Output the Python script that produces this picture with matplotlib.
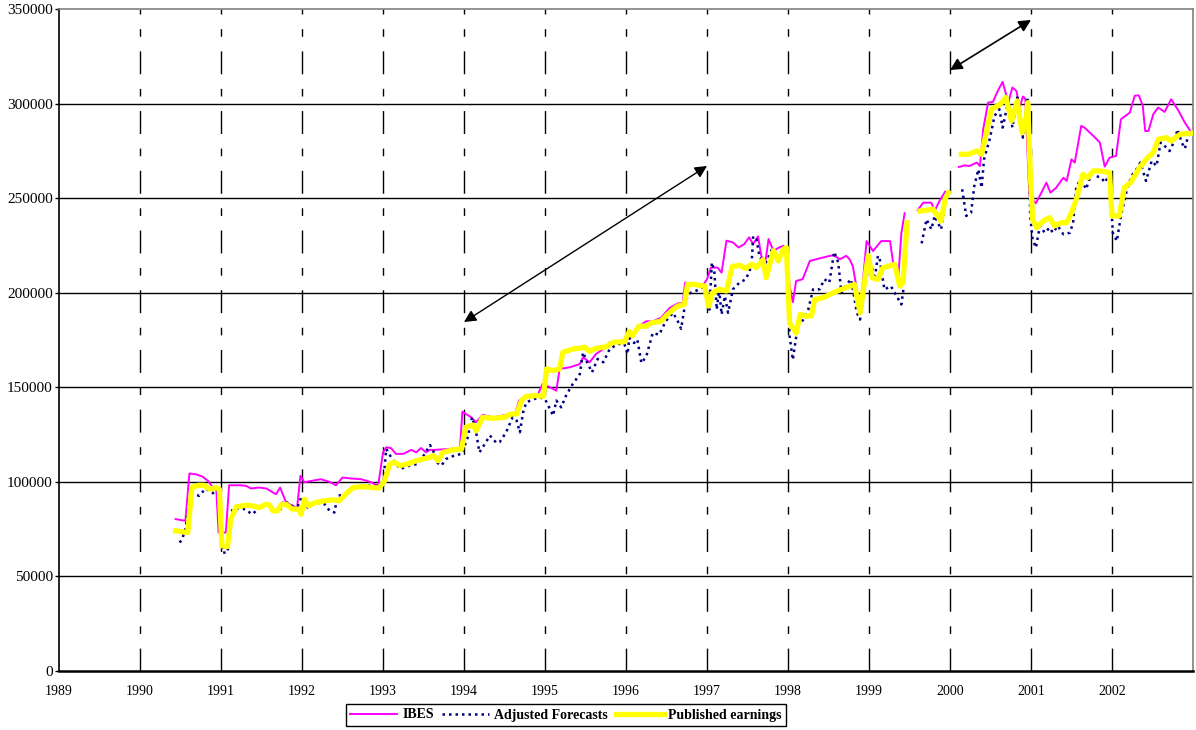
import numpy as np
import matplotlib
matplotlib.use("Agg")
import matplotlib.pyplot as plt

plt.rcParams['font.family'] = ['Liberation Serif', 'DejaVu Serif']

# IBES (x = year, y = value), NaN marks a gap in the series
ibes_t = [1990.44, 1990.56, 1990.61, 1990.69, 1990.77, 1990.84, 1990.90, 1990.94, 1990.97, 1991.06,
          1991.10, 1991.23, 1991.31, 1991.37, 1991.47, 1991.56, 1991.64, 1991.68, 1991.73, 1991.80,
          1991.88, 1991.94, 1991.98, 1992.03, 1992.13, 1992.23, 1992.34, 1992.42, 1992.50, 1992.60,
          1992.73, 1992.84, 1992.94, 1993.00, 1993.04, 1993.10, 1993.16, 1993.25, 1993.35, 1993.41,
          1993.47, 1993.53, 1993.58, 1993.64, 1993.95, 1993.98, 1994.09, 1994.15, 1994.23, 1994.36,
          1994.52, 1994.63, 1994.68, 1994.77, 1994.91, 1994.97, 1995.06, 1995.14, 1995.18, 1995.31,
          1995.43, 1995.47, 1995.55, 1995.63, 1995.72, 1995.80, 1995.92, 1996.02, 1996.08, 1996.16,
          1996.25, 1996.33, 1996.43, 1996.54, 1996.64, 1996.70, 1996.73, 1996.82, 1996.95, 1997.00,
          1997.05, 1997.13, 1997.18, 1997.24, 1997.32, 1997.39, 1997.46, 1997.52, 1997.57, 1997.63,
          1997.67, 1997.72, 1997.76, 1997.82, 1997.89, 1997.94, 1997.98, 1998.02, 1998.06, 1998.10,
          1998.18, 1998.27, 1998.35, 1998.43, 1998.56, 1998.64, 1998.72, 1998.76, 1998.80, 1998.85,
          1998.89, 1998.97, 1999.05, 1999.15, 1999.26, 1999.30, 1999.36, 1999.40, 1999.44, 1999.52,
          1999.60, 1999.67, 1999.77, 1999.81, 1999.87, 1999.94, 2000.02, 2000.11, 2000.18, 2000.24,
          2000.33, 2000.37, 2000.41, 2000.47, 2000.53, 2000.59, 2000.65, 2000.72, 2000.77, 2000.82,
          2000.86, 2000.90, 2000.93, 2000.95, 2000.98, 2001.06, 2001.15, 2001.19, 2001.24, 2001.31,
          2001.40, 2001.44, 2001.50, 2001.54, 2001.62, 2001.66, 2001.77, 2001.85, 2001.91, 2001.97,
          2002.05, 2002.11, 2002.22, 2002.28, 2002.33, 2002.38, 2002.41, 2002.45, 2002.51, 2002.57,
          2002.65, 2002.73, 2002.81, 2002.90, 2002.98]
ibes_v = [80300, 79400, 104400, 104000, 102800, 100500, 97000, 97800, 73200, 73200,
          98200, 98200, 97900, 96500, 97000, 96500, 94400, 93500, 97000, 89400,
          87300, 86400, 103200, 99800, 100600, 101400, 100000, 98200, 102300, 101800,
          101400, 100000, 97900, 115500, 118300, 117800, 114800, 114800, 116900, 115600,
          117900, 115600, 116900, 116900, 117800, 137100, 134100, 131500, 135400, 134100,
          135400, 135900, 143000, 145600, 145900, 151800, 150000, 148200, 159700, 160600,
          162300, 165900, 163200, 167600, 170300, 173800, 174300, 175500, 178700, 182300,
          184900, 184900, 186700, 192000, 194300, 194600, 205300, 204900, 203900, 207100,
          213300, 213300, 210600, 227500, 226600, 223900, 225700, 229300, 225700, 229800,
          219500, 216000, 228400, 222200, 223900, 224800, 223000, 203500, 195000, 206200,
          207100, 216800, 217700, 218600, 219900, 217700, 219500, 217700, 214100, 201800,
          189400, 227300, 222000, 227300, 227300, 215000, 207000, 231700, 242000, np.nan,
          243700, 247600, 247600, 243200, 248500, 253400, np.nan, 266500, 267300, 267000,
          268800, 267000, 286400, 300500, 300900, 306700, 311500, 300500, 308500, 306700,
          297900, 303700, 302600, 281100, 251100, 247300, 254700, 258200, 252900, 255500,
          260800, 259100, 270500, 268800, 288200, 287300, 282900, 279400, 266700, 271400,
          272300, 291700, 295200, 304100, 304400, 298800, 285500, 285500, 294400, 297900,
          295600, 302300, 297000, 289900, 284700]

adj_t = [1990.49, 1990.52, 1990.56, 1990.63, 1990.73, 1990.81, 1990.90, 1990.96, 1991.02, 1991.08,
         1991.14, 1991.27, 1991.39, 1991.47, 1991.56, 1991.64, 1991.72, 1991.78, 1991.86, 1991.95,
         1991.99, 1992.07, 1992.17, 1992.28, 1992.34, 1992.40, 1992.44, 1992.54, 1992.63, 1992.75,
         1992.87, 1992.93, 1993.00, 1993.04, 1993.10, 1993.21, 1993.33, 1993.43, 1993.49, 1993.58,
         1993.62, 1993.66, 1993.72, 1993.78, 1993.88, 1993.97, 1994.04, 1994.10, 1994.15, 1994.19,
         1994.27, 1994.32, 1994.40, 1994.44, 1994.52, 1994.60, 1994.65, 1994.69, 1994.73, 1994.77,
         1994.87, 1994.93, 1995.00, 1995.10, 1995.14, 1995.20, 1995.26, 1995.33, 1995.43, 1995.47,
         1995.52, 1995.58, 1995.65, 1995.72, 1995.80, 1995.90, 1995.98, 1996.02, 1996.04, 1996.10,
         1996.14, 1996.19, 1996.25, 1996.33, 1996.41, 1996.49, 1996.58, 1996.64, 1996.68, 1996.74,
         1996.80, 1996.91, 1996.97, 1997.00, 1997.03, 1997.06, 1997.09, 1997.12, 1997.15, 1997.18,
         1997.22, 1997.26, 1997.32, 1997.40, 1997.48, 1997.55, 1997.57, 1997.61, 1997.65, 1997.73,
         1997.81, 1997.88, 1997.94, 1997.98, 1998.02, 1998.06, 1998.12, 1998.19, 1998.25, 1998.31,
         1998.39, 1998.45, 1998.51, 1998.57, 1998.62, 1998.66, 1998.72, 1998.78, 1998.85, 1998.89,
         1998.97, 1999.03, 1999.07, 1999.11, 1999.13, 1999.19, 1999.27, 1999.34, 1999.40, 1999.43,
         1999.52, 1999.65, 1999.71, 1999.77, 1999.81, 1999.89, 1999.95, 2000.05, 2000.15, 2000.20,
         2000.26, 2000.30, 2000.35, 2000.39, 2000.42, 2000.49, 2000.55, 2000.61, 2000.65, 2000.72,
         2000.77, 2000.83, 2000.86, 2000.90, 2000.96, 2000.99, 2001.02, 2001.06, 2001.11, 2001.17,
         2001.23, 2001.27, 2001.33, 2001.40, 2001.48, 2001.52, 2001.56, 2001.62, 2001.68, 2001.74,
         2001.80, 2001.87, 2001.91, 2001.97, 2002.01, 2002.06, 2002.11, 2002.18, 2002.24, 2002.30,
         2002.35, 2002.42, 2002.49, 2002.55, 2002.60, 2002.65, 2002.71, 2002.77, 2002.81, 2002.86,
         2002.90, 2002.94, 2002.98]
adj_v = [67900, 69700, 75000, 94400, 92600, 96500, 94000, 96100, 62600, 62600,
         85600, 85900, 82900, 86400, 87700, 84700, 84100, 90300, 87300, 87300,
         91700, 86400, 89100, 88200, 84700, 83800, 92600, 93500, 97000, 98200,
         97900, 97900, 97900, 117400, 113000, 106800, 108600, 109500, 113000, 119500,
         116500, 110400, 108600, 112100, 113900, 114800, 122700, 134100, 126200, 115600,
         120900, 124500, 120600, 121000, 126200, 134100, 132400, 126200, 136800, 142100,
         143800, 144700, 143800, 135000, 143000, 139400, 145600, 150900, 157000, 168500,
         163200, 157900, 165000, 163200, 170300, 172900, 172900, 167600, 176100, 173400,
         175200, 162800, 166300, 178700, 177800, 184900, 189400, 184900, 180900, 196500,
         200000, 201800, 203500, 199100, 191100, 216000, 211600, 191100, 201800, 188500,
         198200, 189400, 201800, 205300, 207100, 214200, 229800, 228400, 218600, 216000,
         223900, 217700, 223000, 222200, 177000, 164500, 182300, 185800, 191100, 201800,
         201800, 207100, 205300, 221600, 216000, 200000, 204400, 207100, 189400, 185800,
         210600, 214200, 207100, 219500, 218500, 201700, 203500, 198300, 193800, 203500,
         np.nan, 226100, 238800, 233500, 240600, 233500, 249400, np.nan, 254700, 240600,
         242300, 256400, 265200, 255500, 270500, 281100, 293500, 297000, 287300, 301400,
         287300, 303200, 297900, 282000, 303200, 240600, 228200, 223800, 235300, 231700,
         234400, 231700, 235300, 230900, 231700, 237000, 256400, 260000, 254700, 262600,
         261700, 260800, 258200, 262600, 231700, 227300, 240600, 253800, 261700, 265200,
         268800, 259100, 269700, 267000, 279400, 277600, 274900, 280200, 286400, 279400,
         276200, 282900, 284600]

pub_t = [1990.44, 1990.59, 1990.64, 1990.72, 1990.79, 1990.86, 1990.94, 1990.98, 1991.01, 1991.08,
         1991.12, 1991.19, 1991.31, 1991.39, 1991.47, 1991.56, 1991.60, 1991.64, 1991.70, 1991.74,
         1991.80, 1991.88, 1991.95, 1991.99, 1992.03, 1992.08, 1992.17, 1992.28, 1992.38, 1992.46,
         1992.54, 1992.63, 1992.75, 1992.87, 1992.95, 1993.02, 1993.08, 1993.14, 1993.21, 1993.31,
         1993.41, 1993.58, 1993.62, 1993.68, 1993.74, 1993.86, 1993.97, 1994.02, 1994.11, 1994.15,
         1994.23, 1994.36, 1994.50, 1994.58, 1994.65, 1994.71, 1994.77, 1994.89, 1994.98, 1995.02,
         1995.10, 1995.18, 1995.22, 1995.35, 1995.45, 1995.49, 1995.55, 1995.63, 1995.76, 1995.84,
         1995.98, 1996.04, 1996.08, 1996.16, 1996.25, 1996.31, 1996.43, 1996.49, 1996.58, 1996.64,
         1996.72, 1996.76, 1996.84, 1996.97, 1997.02, 1997.07, 1997.15, 1997.24, 1997.31, 1997.40,
         1997.48, 1997.55, 1997.61, 1997.69, 1997.73, 1997.82, 1997.88, 1997.94, 1997.98, 1998.02,
         1998.10, 1998.15, 1998.23, 1998.29, 1998.33, 1998.43, 1998.56, 1998.68, 1998.82, 1998.89,
         1998.99, 1999.04, 1999.11, 1999.17, 1999.32, 1999.38, 1999.42, 1999.47, 1999.55, 1999.63,
         1999.72, 1999.79, 1999.89, 1999.94, 1999.98, 2000.06, 2000.14, 2000.23, 2000.33, 2000.39,
         2000.43, 2000.51, 2000.61, 2000.69, 2000.76, 2000.83, 2000.89, 2000.94, 2000.96, 2000.99,
         2001.02, 2001.07, 2001.15, 2001.23, 2001.29, 2001.37, 2001.44, 2001.50, 2001.56, 2001.64,
         2001.70, 2001.77, 2001.85, 2001.97, 2002.00, 2002.09, 2002.15, 2002.23, 2002.34, 2002.44,
         2002.51, 2002.57, 2002.67, 2002.73, 2002.84, 2002.98]
pub_v = [74100, 73200, 97000, 98200, 98200, 96100, 97000, 96100, 66200, 65800,
         80300, 86800, 87700, 87300, 86400, 88200, 87700, 84700, 84700, 87800,
         88200, 85600, 85600, 82900, 90800, 87300, 89100, 90000, 90500, 90000,
         93500, 97000, 97500, 97000, 96700, 100500, 109300, 110400, 108600, 109500,
         111200, 113000, 113900, 111200, 115600, 116900, 117400, 128900, 130100, 127100,
         134100, 133600, 134100, 135900, 135900, 143000, 145200, 145600, 145200, 159700,
         158800, 159700, 168500, 170300, 170800, 171200, 169000, 170600, 171500, 173800,
         174100, 179400, 177300, 182300, 182300, 184000, 184900, 187600, 191100, 192900,
         193800, 204400, 204400, 203500, 192900, 200000, 201800, 200900, 213800, 214500,
         212800, 215100, 213300, 217400, 208000, 222200, 216800, 223000, 223900, 184000,
         178700, 188500, 187600, 187900, 196500, 197300, 200000, 202100, 204400, 189400,
         219500, 207900, 207000, 213200, 215000, 203500, 205300, 237000, np.nan, 243200,
         243700, 244100, 237900, 249700, 252900, np.nan, 273200, 273200, 275000, 273200,
         281100, 297000, 299300, 303200, 290800, 301400, 284700, 290800, 300500, 264400,
         238800, 234400, 237900, 239700, 235300, 237000, 237000, 242300, 249400, 262600,
         260800, 264400, 264400, 263500, 240600, 240600, 255500, 258200, 266100, 271400,
         274100, 281100, 282000, 280200, 283800, 284300]

years = list(range(1989, 2003))
yticks = list(range(0, 350001, 50000))

fig = plt.figure(figsize=(11.96, 7.30), dpi=100)
ax = fig.add_axes([59 / 1196, 1 - 671 / 730, (1193 - 59) / 1196, (671 - 9) / 730])

# horizontal grid (solid) and vertical year lines (long-short dash)
for yv in yticks[1:-1]:
    ax.axhline(yv, color='black', lw=1.0, zorder=1)
for yr in years[1:]:
    ax.axvline(yr, color='black', lw=1.0, dashes=(16.5, 10.5, 5.5, 10.5), zorder=1)

ax.plot(ibes_t, ibes_v, color='#FF00FF', lw=1.4, label='IBES', zorder=3)
ax.plot(adj_t, adj_v, color='#000080', lw=1.8, linestyle=(0, (1, 1.6)),
        label='Adjusted Forecasts', zorder=4)
ax.plot(pub_t, pub_v, color='#FFFF00', lw=3.8, label='Published earnings', zorder=5)

# arrows
ax.annotate('', xy=(1994.0, 184500), xytext=(1997.0, 267000),
            arrowprops=dict(arrowstyle='<|-|>', color='black', lw=1.0, mutation_scale=18,
                            shrinkA=0, shrinkB=0), zorder=6)
ax.annotate('', xy=(2000.0, 317700), xytext=(2001.0, 344200),
            arrowprops=dict(arrowstyle='<|-|>', color='black', lw=1.2, mutation_scale=18,
                            shrinkA=0, shrinkB=0), zorder=6)

ax.set_xlim(1989, 2003)
ax.set_ylim(0, 350000)
ax.set_xticks(years)
ax.set_xticklabels([str(y) for y in years], fontsize=10)
ax.set_yticks(yticks)
ax.set_yticklabels([str(v) for v in yticks], fontsize=11)
ax.tick_params(axis='x', length=0, pad=10)
ax.tick_params(axis='y', length=3, width=1, pad=1.5, direction='out')

ax.spines['left'].set_linewidth(1.2)
ax.spines['bottom'].set_linewidth(1.8)
for s in ('top', 'right'):
    ax.spines[s].set_color('#808080')
    ax.spines[s].set_linewidth(1.2)

leg = fig.legend(loc='center', bbox_to_anchor=(566 / 1196, 1 - 715 / 730), ncol=3,
                 frameon=True, fancybox=False, edgecolor='black', framealpha=1,
                 prop={'weight': 'bold', 'size': 10}, handlelength=3.4,
                 handletextpad=0.35, columnspacing=0.6, borderpad=0.3)
leg.get_frame().set_linewidth(1.0)

fig.savefig('out.png', dpi=100)
